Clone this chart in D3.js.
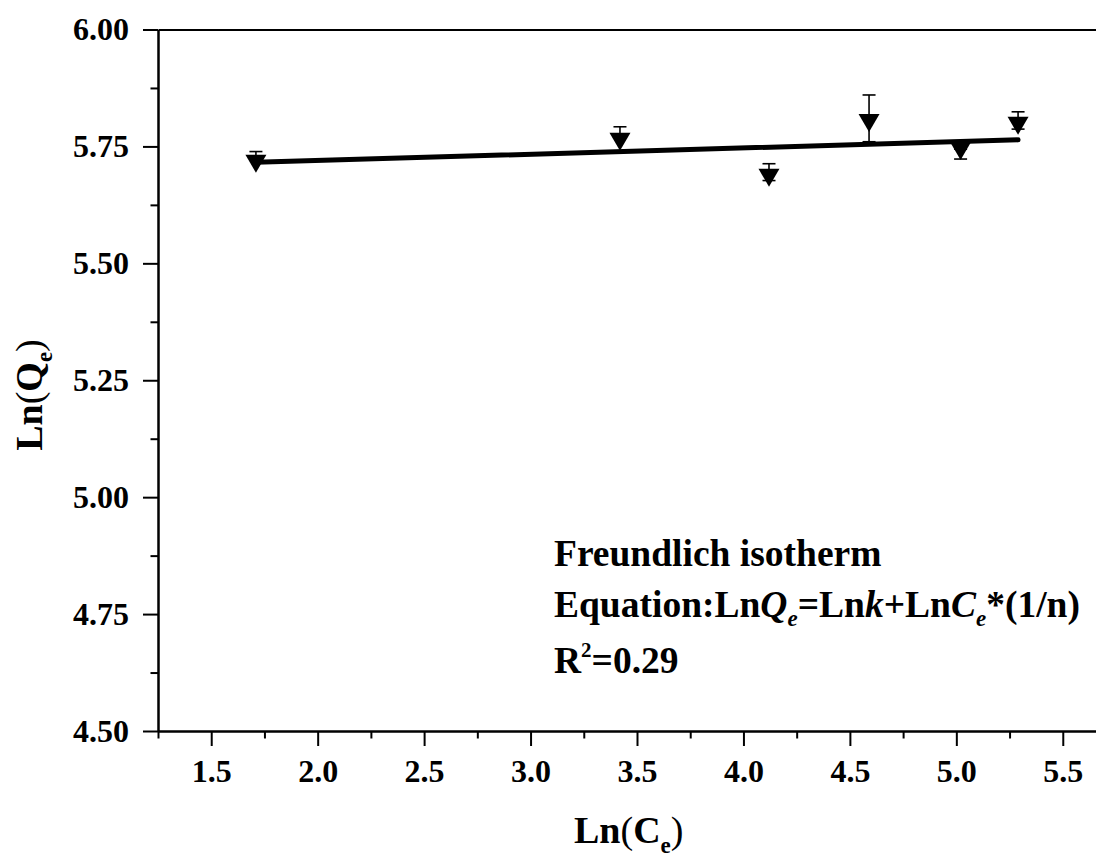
<!DOCTYPE html>
<html>
<head>
<meta charset="utf-8">
<script src="https://cdn.jsdelivr.net/npm/d3@7"></script>
<style>
  html, body { margin: 0; padding: 0; background: #fff; }
  svg { display: block; }
  text { font-family: "Liberation Serif", "Times New Roman", serif; font-weight: bold; fill: #000; }
</style>
</head>
<body>
<svg id="chart" width="1096" height="861"></svg>
<script>
// ---- data ----
const lnCe     = [1.71, 3.42, 4.12, 4.59, 5.02, 5.29];
const lnQe     = [5.713, 5.760, 5.683, 5.800, 5.740, 5.794];
const errPlus  = [0.026, 0.032, 0.030, 0.060, 0.004, 0.030];
const errMinus = [0.000, 0.000, 0.006, 0.040, 0.017, 0.007];
const fitX = [1.71, 5.29];
const fitY = [5.716, 5.764];
const xMajorTicks = [1.5, 2.0, 2.5, 3.0, 3.5, 4.0, 4.5, 5.0, 5.5];
const xMinorTicks = [1.25, 1.75, 2.25, 2.75, 3.25, 3.75, 4.25, 4.75, 5.25, 5.75];
const yMajorTicks = [4.50, 4.75, 5.00, 5.25, 5.50, 5.75, 6.00];
const yMinorTicks = [4.625, 4.875, 5.125, 5.375, 5.625, 5.875];
const annotationTitle = "Freundlich isotherm";
const r2Value = "0.29";

// ---- layout ----
const svg = d3.select("#chart");
const L = 158, R = 1116, T = 29.5, B = 731;
const x = d3.scaleLinear().domain([1.25, 5.75]).range([L, R]);
const y = d3.scaleLinear().domain([4.5, 6.0]).range([B, T]);

svg.append("rect").attr("width", 1096).attr("height", 861).attr("fill", "#fff");

function styleAxis(g) {
  g.selectAll("path, line").attr("stroke", "#000").attr("stroke-width", 2);
  g.selectAll("text").attr("font-family", '"Liberation Serif", "Times New Roman", serif')
    .attr("font-weight", "bold").attr("font-size", 32).attr("fill", "#000");
}

const gx = svg.append("g").attr("transform", `translate(0,${B})`)
  .call(d3.axisBottom(x).tickValues(xMajorTicks).tickFormat(d3.format(".1f"))
        .tickSize(15).tickSizeOuter(0).tickPadding(13));
styleAxis(gx);
gx.selectAll("text").attr("dy", "0.71em");
const gxm = svg.append("g").attr("transform", `translate(0,${B})`)
  .call(d3.axisBottom(x).tickValues(xMinorTicks).tickFormat("").tickSize(7.5).tickSizeOuter(0));
styleAxis(gxm);

const gy = svg.append("g").attr("transform", `translate(${L},0)`)
  .call(d3.axisLeft(y).tickValues(yMajorTicks).tickFormat(d3.format(".2f"))
        .tickSize(15).tickSizeOuter(0).tickPadding(14));
styleAxis(gy);
const gym = svg.append("g").attr("transform", `translate(${L},0)`)
  .call(d3.axisLeft(y).tickValues(yMinorTicks).tickFormat("").tickSize(7.5).tickSizeOuter(0));
styleAxis(gym);

const gt = svg.append("g").attr("transform", `translate(0,${T})`)
  .call(d3.axisTop(x).tickValues([]).tickSizeOuter(0));
styleAxis(gt);

// fit line
svg.append("line")
  .attr("x1", x(fitX[0])).attr("y1", y(fitY[0]))
  .attr("x2", x(fitX[1])).attr("y2", y(fitY[1]))
  .attr("stroke", "#000").attr("stroke-width", 5).attr("stroke-linecap", "round");

// points with error bars
const pts = lnCe.map((v, i) => ({ x: v, y: lnQe[i], ep: errPlus[i], em: errMinus[i] }));
const eb = svg.append("g").attr("stroke", "#000").attr("stroke-width", 1.6);
pts.forEach(d => {
  const cx = x(d.x);
  eb.append("line").attr("x1", cx).attr("x2", cx).attr("y1", y(d.y + d.ep)).attr("y2", y(d.y - d.em));
  if (d.ep > 0) eb.append("line").attr("x1", cx - 6.5).attr("x2", cx + 6.5).attr("y1", y(d.y + d.ep)).attr("y2", y(d.y + d.ep));
  if (d.em > 0) eb.append("line").attr("x1", cx - 6.5).attr("x2", cx + 6.5).attr("y1", y(d.y - d.em)).attr("y2", y(d.y - d.em));
});
svg.append("g").selectAll("path").data(pts).join("path")
  .attr("d", d => {
    const cx = x(d.x), cy = y(d.y);
    return `M${cx - 10.5},${cy - 9}L${cx + 10.5},${cy - 9}L${cx},${cy + 9}Z`;
  })
  .attr("fill", "#000");

// axis titles
const xt = svg.append("text").attr("x", 574).attr("y", 843).attr("font-size", 38);
xt.append("tspan").text("Ln");
xt.append("tspan").attr("font-weight", "normal").text("(");
xt.append("tspan").text("C");
xt.append("tspan").attr("font-size", 23).attr("dy", 10).text("e");
xt.append("tspan").attr("font-weight", "normal").attr("dy", -10).text(")");

const yt = svg.append("text").attr("transform", "translate(42,395) rotate(-90)")
  .attr("text-anchor", "middle").attr("font-size", 38);
yt.append("tspan").text("Ln");
yt.append("tspan").attr("font-weight", "normal").text("(");
yt.append("tspan").text("Q");
yt.append("tspan").attr("font-size", 23).attr("dy", 10).text("e");
yt.append("tspan").attr("font-weight", "normal").attr("dy", -10).text(")");

// annotation
const ax0 = 554;
const fs = 37.5;
svg.append("text").attr("x", ax0).attr("y", 566).attr("font-size", fs).text(annotationTitle);
const eq = svg.append("text").attr("x", ax0).attr("y", 617).attr("font-size", fs);
eq.append("tspan").text("Equation:Ln");
eq.append("tspan").attr("font-style", "italic").text("Q");
eq.append("tspan").attr("font-style", "italic").attr("font-size", 23).attr("dy", 9).text("e");
eq.append("tspan").attr("dy", -9).text("=Ln");
eq.append("tspan").attr("font-style", "italic").text("k");
eq.append("tspan").text("+Ln");
eq.append("tspan").attr("font-style", "italic").text("C");
eq.append("tspan").attr("font-style", "italic").attr("font-size", 23).attr("dy", 9).text("e");
eq.append("tspan").attr("dy", -9).text("*(1/n)");

const r2 = svg.append("text").attr("x", ax0).attr("y", 673).attr("font-size", fs);
r2.append("tspan").text("R");
r2.append("tspan").attr("font-size", 21).attr("dy", -16).text("2");
r2.append("tspan").attr("dy", 16).text("=" + r2Value);
</script>
</body>
</html>
